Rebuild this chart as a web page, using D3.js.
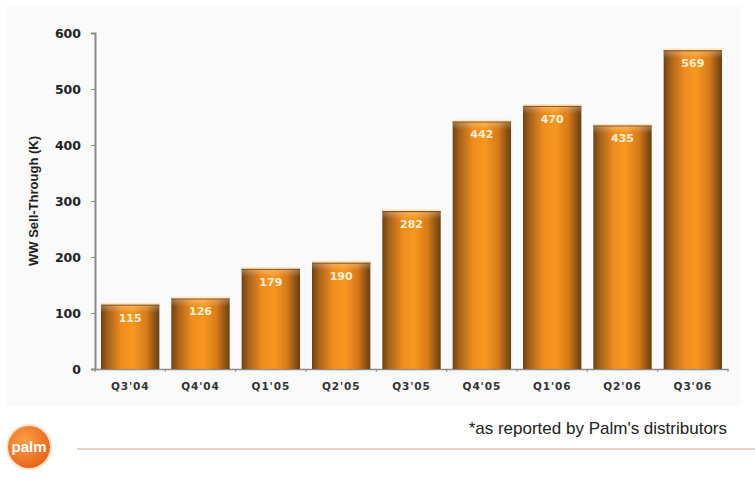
<!DOCTYPE html>
<html><head><meta charset="utf-8">
<script src="https://cdn.jsdelivr.net/npm/d3@7"></script>
<style>body{margin:0;background:#fff;}svg{display:block;}</style>
</head><body>
<script>
const categories = ["Q3'04","Q4'04","Q1'05","Q2'05","Q3'05","Q4'05","Q1'06","Q2'06","Q3'06"];
const values = [115,126,179,190,282,442,470,435,569];
const yTicks = [0,100,200,300,400,500,600];
const yTitle = "WW Sell-Through (K)";
const footnote = "*as reported by Palm's distributors";

const W = 755, H = 479;
const svg = d3.select("body").append("svg").attr("width", W).attr("height", H);
svg.append("rect").attr("width", W).attr("height", H).attr("fill", "#ffffff");
svg.append("rect").attr("x", 6).attr("y", 6).attr("width", 734).attr("height", 400).attr("fill", "#fafafa");

const defs = svg.append("defs");
const g = defs.append("linearGradient").attr("id", "barGrad").attr("x1", "0").attr("x2", "1").attr("y1", "0").attr("y2", "0");
[[0,"#6e4212"],[0.12,"#a8621a"],[0.35,"#ef8c1e"],[0.55,"#f7981f"],[0.78,"#d77a1a"],[0.92,"#8f5414"],[1,"#6a3f10"]]
  .forEach(([o,c]) => g.append("stop").attr("offset", o).attr("stop-color", c));
const gt = defs.append("linearGradient").attr("id", "topGrad").attr("x1", "0").attr("x2", "0").attr("y1", "0").attr("y2", "1");
gt.append("stop").attr("offset", 0).attr("stop-color", "#ffffff").attr("stop-opacity", 0.3);
gt.append("stop").attr("offset", 1).attr("stop-color", "#ffffff").attr("stop-opacity", 0);

const x = d3.scaleBand().domain(categories).range([95, 728]).paddingInner(0.17).paddingOuter(0.085);
const y = d3.scaleLinear().domain([0, 600]).range([369, 33]);
const boldFont = "'DejaVu Sans', Verdana, sans-serif";

// y axis
const yAxis = svg.append("g").attr("transform", "translate(95,0)")
  .call(d3.axisLeft(y).tickValues(yTicks).tickSize(4).tickPadding(10));
yAxis.select(".domain").attr("stroke", "#8a8a8a").attr("stroke-width", 2);
yAxis.selectAll(".tick line").attr("stroke", "#8a8a8a");
yAxis.selectAll("text").attr("font-family", boldFont).attr("font-weight", "bold")
  .attr("font-size", 12.5).attr("fill", "#222");

// x axis
const xAxis = svg.append("g").attr("transform", "translate(0,369)")
  .call(d3.axisBottom(x).tickSize(0).tickPadding(14));
xAxis.select(".domain").attr("stroke", "#8a8a8a").attr("stroke-width", 1.5);
xAxis.selectAll("text").attr("font-family", boldFont).attr("font-weight", "bold")
  .attr("font-size", 10.5).attr("letter-spacing", "0.9px").attr("fill", "#333");
d3.range(categories.length + 1).forEach(i => {
  const bx = 95 + i * (633 / categories.length);
  xAxis.append("line").attr("x1", bx).attr("x2", bx).attr("y1", 0).attr("y2", 3).attr("stroke", "#8a8a8a");
});

// bars
const bars = svg.append("g");
bars.selectAll("rect.bar").data(values).join("rect").attr("class", "bar")
  .attr("x", (d,i) => x(categories[i])).attr("width", x.bandwidth())
  .attr("y", d => y(d)).attr("height", d => y(0) - y(d))
  .attr("fill", "url(#barGrad)");
bars.selectAll("rect.hl").data(values).join("rect").attr("class", "hl")
  .attr("x", (d,i) => x(categories[i])).attr("width", x.bandwidth())
  .attr("y", d => y(d)).attr("height", 8).attr("fill", "url(#topGrad)");
bars.selectAll("line.top").data(values).join("line").attr("class", "top")
  .attr("x1", (d,i) => x(categories[i])).attr("x2", (d,i) => x(categories[i]) + x.bandwidth())
  .attr("y1", d => y(d) + 0.5).attr("y2", d => y(d) + 0.5).attr("stroke", "#7a4814").attr("stroke-width", 1);
bars.selectAll("line.glow").data(values).join("line").attr("class", "glow")
  .attr("x1", (d,i) => x(categories[i])).attr("x2", (d,i) => x(categories[i]) + x.bandwidth())
  .attr("y1", d => y(d) - 1).attr("y2", d => y(d) - 1).attr("stroke", "#fde6b8").attr("stroke-width", 1.5);
bars.selectAll("text").data(values).join("text")
  .attr("x", (d,i) => x(categories[i]) + x.bandwidth()/2).attr("y", d => y(d) + 17)
  .attr("text-anchor", "middle").attr("font-family", boldFont)
  .attr("font-weight", "bold").attr("font-size", 11).attr("fill", "#fff0d8").text(d => d);

// y title
svg.append("text").attr("transform", "translate(38,201) rotate(-90)").attr("text-anchor", "middle")
  .attr("font-family", "Arial, 'Liberation Sans', sans-serif").attr("font-weight", "bold").attr("font-size", 13)
  .attr("fill", "#222").text(yTitle);

// footnote
svg.append("text").attr("x", 727).attr("y", 434).attr("text-anchor", "end")
  .attr("font-family", "Arial, 'Liberation Sans', sans-serif").attr("font-size", 17).attr("fill", "#222").text(footnote);

// separator line
svg.append("line").attr("x1", 77).attr("x2", 755).attr("y1", 449).attr("y2", 449).attr("stroke", "#c9ab7e").attr("stroke-width", 1);

// palm logo
const lg = defs.append("radialGradient").attr("id", "logoGrad").attr("cx", "0.4").attr("cy", "0.35").attr("r", "0.7");
lg.append("stop").attr("offset", 0).attr("stop-color", "#fba046");
lg.append("stop").attr("offset", 1).attr("stop-color", "#e8611a");
svg.append("circle").attr("cx", 29).attr("cy", 447).attr("r", 23).attr("fill", "#fde3cc");
svg.append("circle").attr("cx", 29).attr("cy", 447).attr("r", 21).attr("fill", "url(#logoGrad)");
svg.append("text").attr("x", 29).attr("y", 452).attr("text-anchor", "middle")
  .attr("font-family", "Arial, 'Liberation Sans', sans-serif").attr("font-weight", "bold").attr("font-size", 15)
  .attr("fill", "#ffffff").text("palm");
</script>
</body></html>
